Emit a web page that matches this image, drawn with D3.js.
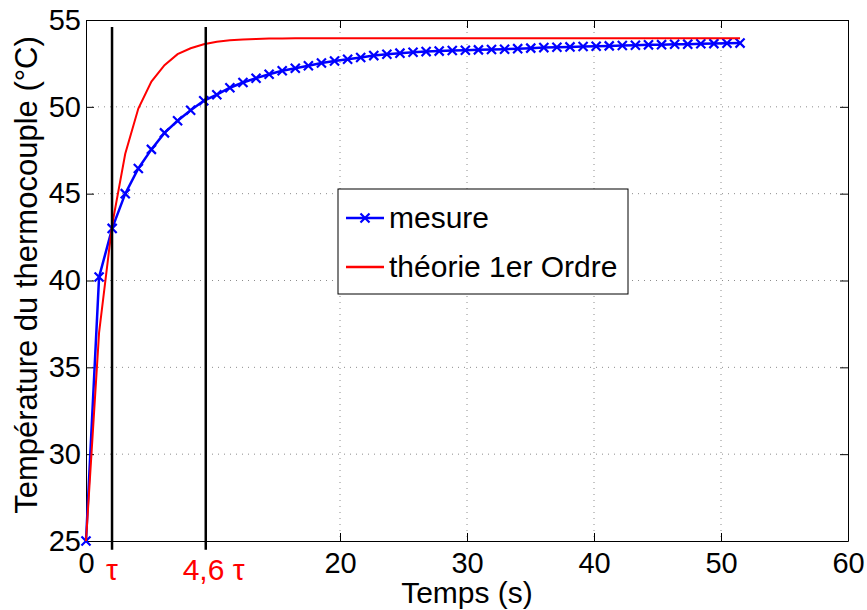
<!DOCTYPE html>
<html lang="fr">
<head>
    <meta charset="UTF-8">
    <title>Réponse du thermocouple</title>
    <script src="https://d3js.org/d3.v7.min.js"></script>
    <style>
        body { margin: 0; background: #fff; }
        svg { font-family: "Liberation Sans", Arial, sans-serif; }
        .grid { stroke: #8c8c8c; stroke-width: 1; stroke-dasharray: 1,5; }
        .axis path, .axis line { stroke: #000; stroke-width: 1; }
        .axis text { font-size: 29px; fill: #000; font-family: "Liberation Sans", Arial, sans-serif; }
    </style>
</head>
<body>
    <svg id="chart" width="867" height="610"></svg>

    <script>
        // temps (s)
        const temps = [0, 1.03, 2.06, 3.09, 4.12, 5.15, 6.18, 7.21, 8.24, 9.27,
                       10.3, 11.33, 12.36, 13.39, 14.42, 15.45, 16.48, 17.51, 18.54, 19.57,
                       20.6, 21.63, 22.66, 23.69, 24.72, 25.75, 26.78, 27.81, 28.84, 29.87,
                       30.9, 31.93, 32.96, 33.99, 35.02, 36.05, 37.08, 38.11, 39.14, 40.17,
                       41.2, 42.23, 43.26, 44.29, 45.32, 46.35, 47.38, 48.41, 49.44, 50.47, 51.5];

        // mesure du thermocouple (°C)
        const mesure = [25, 40.2, 43.0, 45.0, 46.45, 47.55, 48.5, 49.2, 49.8, 50.35,
                        50.7, 51.1, 51.4, 51.65, 51.88, 52.08, 52.22, 52.37, 52.52, 52.64,
                        52.74, 52.84, 52.95, 53.03, 53.09, 53.14, 53.18, 53.21, 53.24, 53.26,
                        53.28, 53.30, 53.32, 53.35, 53.38, 53.41, 53.43, 53.45, 53.47, 53.49,
                        53.51, 53.53, 53.55, 53.57, 53.58, 53.60, 53.61, 53.63, 53.64, 53.66, 53.67];

        // théorie 1er ordre (°C)
        const theorie = [25, 37.0, 43.2, 47.3, 49.9, 51.45, 52.4, 53.03, 53.37, 53.6,
                         53.75, 53.83, 53.88, 53.91, 53.93, 53.94, 53.95, 53.95, 53.95, 53.95,
                         53.95, 53.95, 53.95, 53.95, 53.95, 53.95, 53.95, 53.95, 53.95, 53.95,
                         53.95, 53.95, 53.95, 53.95, 53.95, 53.95, 53.95, 53.95, 53.95, 53.95,
                         53.95, 53.95, 53.95, 53.95, 53.95, 53.95, 53.95, 53.95, 53.95, 53.95, 53.95];

        const xTicks = [0, 20, 30, 40, 50, 60];
        const yTicks = [25, 30, 35, 40, 45, 50, 55];

        // repères tau et 4,6 tau
        const reperes = [2.05, 9.43];
        const repereY = [24.5, 54.6];
        const repereLabels = ["τ", "4,6 τ"];
        const repereLabelX = [2.05, 10.05];

        const legendNames = ["mesure", "théorie 1er Ordre"];
        const legendColors = ["#0000ff", "#ff0000"];

        const svg = d3.select("#chart");

        // zone du tracé
        const plotLeft = 86, plotRight = 848, plotTop = 20, plotBottom = 541;

        const x = d3.scaleLinear().domain([0, 60]).range([plotLeft, plotRight]);
        const y = d3.scaleLinear().domain([25, 55]).range([plotBottom, plotTop]);

        // grille pointillée
        svg.append("g").selectAll("line")
            .data(xTicks.slice(1, -1))
            .enter().append("line")
            .attr("class", "grid")
            .attr("x1", d => x(d)).attr("x2", d => x(d))
            .attr("y1", plotTop).attr("y2", plotBottom);

        svg.append("g").selectAll("line")
            .data(yTicks.slice(1, -1))
            .enter().append("line")
            .attr("class", "grid")
            .attr("x1", plotLeft).attr("x2", plotRight)
            .attr("y1", d => y(d)).attr("y2", d => y(d));

        // axes (graduations vers l'intérieur, sur les 4 côtés)
        svg.append("g")
            .attr("class", "axis")
            .attr("transform", `translate(0,${plotBottom})`)
            .call(d3.axisBottom(x).tickValues(xTicks).tickSize(-8).tickSizeOuter(0).tickPadding(11));

        svg.append("g")
            .attr("class", "axis")
            .attr("transform", `translate(0,${plotTop})`)
            .call(d3.axisTop(x).tickValues(xTicks).tickSize(-8).tickSizeOuter(0).tickFormat(""));

        svg.append("g")
            .attr("class", "axis")
            .attr("transform", `translate(${plotLeft},0)`)
            .call(d3.axisLeft(y).tickValues(yTicks).tickSize(-8).tickSizeOuter(0).tickPadding(5));

        svg.append("g")
            .attr("class", "axis")
            .attr("transform", `translate(${plotRight},0)`)
            .call(d3.axisRight(y).tickValues(yTicks).tickSize(-8).tickSizeOuter(0).tickFormat(""));

        const mesurePts = temps.map((t, i) => [t, mesure[i]]);
        const theoriePts = temps.map((t, i) => [t, theorie[i]]);

        const line = d3.line().x(d => x(d[0])).y(d => y(d[1]));

        // courbe mesurée + marqueurs x
        svg.append("path")
            .datum(mesurePts)
            .attr("d", line)
            .attr("fill", "none")
            .attr("stroke", "#0000ff")
            .attr("stroke-width", 2.5);

        const cross = d3.symbol().type(d3.symbolX).size(55);
        svg.append("g").selectAll("path")
            .data(mesurePts)
            .enter().append("path")
            .attr("d", cross)
            .attr("transform", d => `translate(${x(d[0])},${y(d[1])})`)
            .attr("fill", "none")
            .attr("stroke", "#0000ff")
            .attr("stroke-width", 2.2);

        // courbe théorique
        svg.append("path")
            .datum(theoriePts)
            .attr("d", line)
            .attr("fill", "none")
            .attr("stroke", "#ff0000")
            .attr("stroke-width", 2);

        // lignes verticales tau
        svg.append("g").selectAll("line")
            .data(reperes)
            .enter().append("line")
            .attr("x1", d => x(d)).attr("x2", d => x(d))
            .attr("y1", y(repereY[0])).attr("y2", y(repereY[1]))
            .attr("stroke", "#000")
            .attr("stroke-width", 2.5);

        svg.append("g").selectAll("text")
            .data(repereLabels)
            .enter().append("text")
            .attr("x", (d, i) => x(repereLabelX[i]))
            .attr("y", 580)
            .attr("text-anchor", "middle")
            .attr("font-size", 30)
            .attr("fill", "#ff0000")
            .text(d => d);

        // titres des axes
        svg.append("text")
            .attr("x", 467)
            .attr("y", 603)
            .attr("text-anchor", "middle")
            .attr("font-size", 30)
            .text("Temps (s)");

        svg.append("text")
            .attr("transform", "translate(37,275) rotate(-90)")
            .attr("text-anchor", "middle")
            .attr("font-size", 31)
            .text("Température du thermocouple (°C)");

        // légende
        const legend = svg.append("g");
        legend.append("rect")
            .attr("x", 338).attr("y", 189)
            .attr("width", 290).attr("height", 105)
            .attr("fill", "#fff")
            .attr("stroke", "#000")
            .attr("stroke-width", 1);

        legendNames.forEach((name, i) => {
            const ly = 218 + i * 49;
            legend.append("line")
                .attr("x1", 346).attr("x2", 384)
                .attr("y1", ly).attr("y2", ly)
                .attr("stroke", legendColors[i])
                .attr("stroke-width", 2.5);
            if (i === 0) {
                legend.append("path")
                    .attr("d", cross)
                    .attr("transform", `translate(365,${ly})`)
                    .attr("fill", "none")
                    .attr("stroke", legendColors[i])
                    .attr("stroke-width", 2.2);
            }
            legend.append("text")
                .attr("x", 389)
                .attr("y", ly + 10)
                .attr("font-size", 30)
                .text(name);
        });
    </script>
</body>
</html>
